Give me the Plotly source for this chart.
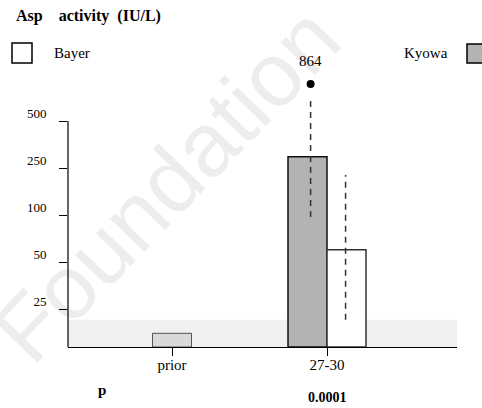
import numpy as np
import plotly.graph_objects as go

# ---- data ----
categories = ["prior", "27-30"]
tick_values = [25, 50, 100, 250, 500]
tick_labels = ["25", "50", "100", "250", "500"]
prior_value = [9]
kyowa_value = [310]
bayer_value = [63]
kyowa_range = [98, 707]
bayer_range = [18, 228]
kyowa_max = 864
normal_upper = 18
p_values = ["", "0.0001"]

# ---- piecewise scale (ticks evenly spaced) ----
W, H = 482, 408
unit = 47.0
knot_vals = [0, 25, 50, 100, 250, 500, 1000]
knot_pos = [1 - 38 / unit, 1, 2, 3, 4, 5, 6.08]


def pos(v):
    return float(np.interp(v, knot_vals, knot_pos))


x_left_px, x_right_px = 68, 457
base_px, top_px = 347, 40
y_lo = pos(0)
y_hi = 1 + (309 - top_px) / unit
xc = [0, 1]
px_per_x = 155.0
x_lo = -(172 - x_left_px) / px_per_x
x_hi = 1 + (x_right_px - 327) / px_per_x
bw = 39 / px_per_x

serif = "Liberation Serif, Times New Roman, serif"

fig = go.Figure()

# prior bar
fig.add_trace(go.Bar(
    x=[xc[0]], y=[pos(prior_value[0]) - y_lo], base=[y_lo], width=bw,
    marker=dict(color="#d9d9d9", line=dict(color="#555555", width=1)),
    showlegend=False, hoverinfo="skip"))
# Kyowa
fig.add_trace(go.Bar(
    x=[xc[1]], y=[pos(kyowa_value[0]) - y_lo], base=[y_lo], width=bw, offset=-bw,
    marker=dict(color="#b3b3b3", line=dict(color="#111111", width=1.5)),
    showlegend=False, hoverinfo="skip"))
# Bayer
fig.add_trace(go.Bar(
    x=[xc[1]], y=[pos(bayer_value[0]) - y_lo], base=[y_lo], width=bw, offset=0,
    marker=dict(color="white", line=dict(color="#333333", width=1.5)),
    showlegend=False, hoverinfo="skip"))

kx = xc[1] - bw / 2 + 0.02
bx = xc[1] + bw / 2 - 0.006
fig.add_trace(go.Scatter(
    x=[kx, kx], y=[pos(v) for v in kyowa_range], mode="lines",
    line=dict(color="#333333", width=1.5, dash="6px,5px"),
    showlegend=False, hoverinfo="skip"))
fig.add_trace(go.Scatter(
    x=[bx, bx], y=[pos(v) for v in bayer_range], mode="lines",
    line=dict(color="#333333", width=1.5, dash="6px,5px"),
    showlegend=False, hoverinfo="skip"))
fig.add_trace(go.Scatter(
    x=[kx], y=[pos(kyowa_max)], mode="markers",
    marker=dict(color="black", size=8),
    showlegend=False, hoverinfo="skip"))

wx, wy = 160 / W, 1 - 178 / H
shapes = [
    dict(type="rect", xref="paper", yref="paper",
         x0=wx - 0.001, x1=wx + 0.001, y0=wy - 0.001, y1=wy + 0.001,
         fillcolor="rgba(0,0,0,0)", line=dict(width=0), layer="below",
         label=dict(text="Foundation", textangle=-46, textposition="middle center",
                    font=dict(family="Liberation Sans, Arial, sans-serif",
                              size=90, color="#efecec"))),
    dict(type="rect", xref="x domain", x0=0, x1=1, yref="y",
         y0=y_lo, y1=pos(normal_upper), fillcolor="#f0f0f0",
         line=dict(width=0), layer="below"),
    dict(type="line", xref="x domain", x0=0, x1=0, yref="y",
         y0=y_lo, y1=pos(500), line=dict(color="black", width=1.2)),
    dict(type="rect", xref="paper", yref="paper",
         x0=12 / W, x1=32 / W, y0=1 - 63 / H, y1=1 - 43 / H,
         fillcolor="white", line=dict(color="black", width=1.5)),
    dict(type="rect", xref="paper", yref="paper",
         x0=467 / W, x1=487 / W, y0=1 - 63 / H, y1=1 - 44 / H,
         fillcolor="#b3b3b3", line=dict(color="black", width=1.5)),
]

annotations = [
    dict(text="<b>Asp&nbsp;&nbsp;&nbsp; activity&nbsp; (IU/L)</b>", x=14 / W, y=1 - 16 / H,
         xref="paper", yref="paper", showarrow=False, xanchor="left", yanchor="middle",
         font=dict(family=serif, size=16, color="black")),
    dict(text="Bayer", x=52 / W, y=1 - 53 / H, xref="paper", yref="paper",
         showarrow=False, xanchor="left", yanchor="middle",
         font=dict(family=serif, size=15, color="black")),
    dict(text="Kyowa", x=450 / W, y=1 - 53 / H, xref="paper", yref="paper",
         showarrow=False, xanchor="right", yanchor="middle",
         font=dict(family=serif, size=15, color="black")),
    dict(text=str(kyowa_max), x=kx, y=pos(kyowa_max), xref="x", yref="y",
         showarrow=False, yshift=23, font=dict(family=serif, size=15, color="black")),
    dict(text="<b>p</b>", x=102 / W, y=1 - 390 / H, xref="paper", yref="paper",
         showarrow=False, xanchor="center", yanchor="middle",
         font=dict(family=serif, size=15, color="black")),
]
for i, pv in enumerate(p_values):
    if pv:
        annotations.append(dict(
            text="<b>" + pv + "</b>", x=xc[i], y=1 - 397 / H, xref="x", yref="paper",
            showarrow=False, xanchor="center", yanchor="middle",
            font=dict(family=serif, size=14, color="black")))

fig.update_layout(
    width=W, height=H,
    margin=dict(l=0, r=0, t=0, b=0),
    paper_bgcolor="white", plot_bgcolor="white",
    barmode="overlay",
    shapes=shapes, annotations=annotations,
    xaxis=dict(
        domain=[x_left_px / W, x_right_px / W], range=[x_lo, x_hi],
        tickvals=xc, ticktext=categories, ticks="outside", ticklen=8,
        tickcolor="black", tickwidth=1, showline=True, linecolor="black",
        linewidth=1.2, showgrid=False, zeroline=False, ticklabelstandoff=-4,
        tickfont=dict(family=serif, size=15, color="black")),
    yaxis=dict(
        domain=[1 - base_px / H, 1 - top_px / H], range=[y_lo, y_hi],
        tickvals=[pos(v) for v in tick_values], ticktext=tick_labels,
        ticks="outside", ticklen=8, tickcolor="black", tickwidth=1,
        showline=False, showgrid=False, zeroline=False,
        ticklabelshift=-8, ticklabelstandoff=10,
        tickfont=dict(family=serif, size=13, color="black")),
)

fig.write_html("out.html", config={"displayModeBar": False},
               post_script="document.body.style.margin='0';")
